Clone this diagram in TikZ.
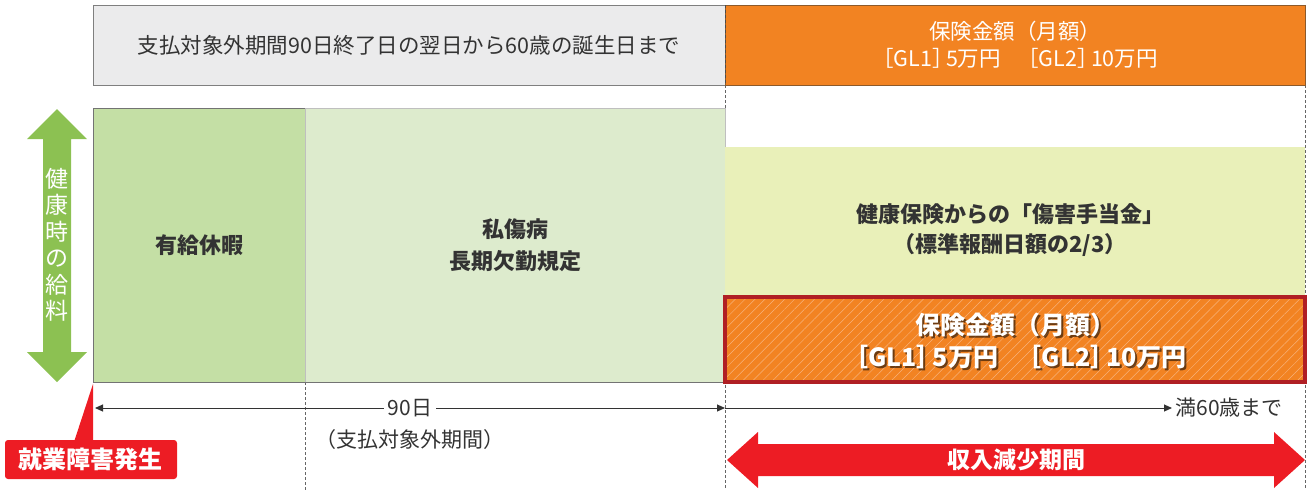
\documentclass[tikz,border=0pt]{standalone}
\usepackage{fontspec}
\setmainfont{Noto Sans CJK JP}
\usetikzlibrary{patterns.meta,arrows.meta}
\definecolor{grayfill}{HTML}{EBEBEC}
\definecolor{grayedge}{HTML}{7F7F7F}
\definecolor{orng}{HTML}{F28322}
\definecolor{orngedge}{HTML}{8C5A2B}
\definecolor{hatch}{HTML}{F7B27A}
\definecolor{dgreen}{HTML}{C4DFA5}
\definecolor{lgreen}{HTML}{DDEBCD}
\definecolor{ygreen}{HTML}{E9F0B9}
\definecolor{redc}{HTML}{ED1C24}
\definecolor{dred}{HTML}{B01F24}
\definecolor{garrow}{HTML}{8CC152}
\definecolor{txt}{HTML}{333333}
\newcommand\fsz[2]{\fontsize{#1}{#2}\selectfont}
\newcommand\glamt{［GL1］\kern-0.35em 5万円　\kern-0.25em［GL2］\kern-0.35em 10万円}
\begin{document}
\begin{tikzpicture}[x=1pt,y=-1pt,
  box/.style={anchor=north west, inner sep=0pt, outer sep=0pt, align=center},
  dline/.style={draw=black!60, line width=0.8pt, dash pattern=on 3pt off 2pt},
  conn/.style={draw=txt, line width=1pt},
  tipa/.tip={Triangle[length=8pt,width=7pt]},
  lbl/.style={text=txt, align=center, inner sep=0pt}]
\useasboundingbox (0,0) rectangle (1307,490);

% dashed guide lines (behind)
\draw[dline] (305,382) -- (305,490);
\draw[dline] (725,85) -- (725,490);
\draw[dline] (1305,85) -- (1305,490);

% top bar
\node[box, fill=grayfill, draw=grayedge, line width=0.8pt, minimum width=632pt, minimum height=80pt,
  text=txt, font=\fsz{21.5}{26}] (g0) at (93,5) {支払対象外期間90日終了日の翌日から60歳の誕生日まで};
\node[box, fill=orng, draw=orngedge, line width=0.8pt, minimum width=580pt, minimum height=80pt,
  text=white, font=\fsz{21.5}{27}] (o0) at (725,5) {保険金額（月額）\\\glamt};
\draw[dline, draw=black!70] (g0.north east) -- (g0.south east);

% main boxes
\node[box, fill=dgreen, draw=black!55, line width=0.8pt, minimum width=212pt, minimum height=274pt,
  text=txt, font=\bfseries\fsz{22}{32}] (pay) at (93,108) {有給休暇};
\node[box, fill=lgreen, draw=black!25, line width=0.5pt, minimum width=420pt, minimum height=274pt,
  text=txt, font=\bfseries\fsz{22}{32}] (sick) at (305,108) {私傷病\\長期欠勤規定};
\draw[draw=black!55, line width=0.8pt] (pay.south west) -- (sick.south east);
\node[box, fill=ygreen, minimum width=580pt, minimum height=150pt] (hi) at (725,147) {};
\node[lbl, font=\bfseries\fsz{22}{30}] (hit) at (1010,230) {健康保険からの「傷害手当金」\\（標準報酬日額の2/3）};
\node[box, preaction={fill=orng}, pattern={Lines[angle=45,distance=7pt,line width=0.5pt]}, pattern color=hatch,
  draw=dred, line width=4pt, minimum width=580pt, minimum height=85pt] (ins) at (725,297) {};
\node[lbl, text=black, opacity=0.55, font=\bfseries\fsz{25}{32}] (inssh) at (1017,343) {保険金額（月額）\\\glamt};
\node[lbl, text=white, font=\bfseries\fsz{25}{32}] (inst) at (1015,341) {保険金額（月額）\\\glamt};

% green double arrow
\fill[garrow] (57,109) -- (87,139) -- (71,139) -- (71,352) -- (87,352) -- (57,382)
  -- (27,352) -- (43,352) -- (43,139) -- (27,139) -- cycle;
\node[lbl, text=white, font=\fsz{23}{26.5}] (sal) at (57,245) {健\\康\\時\\の\\給\\料};

% timeline arrows
\coordinate (a0) at (95,408);
\coordinate (a1) at (725,408);
\coordinate (a2) at (1172,408);
\draw[conn, tipa-tipa] (a0) -- node[fill=white, text=txt, font=\fsz{21}{24}, inner sep=4pt] (d90) {90日} (a1);
\node[lbl, font=\fsz{21}{24}] (sub) at (410,440) {（支払対象外期間）};
\draw[conn, -tipa] (a1) -- (a2) node[right, text=txt, font=\fsz{21}{24}, inner sep=3pt] (m60) {満60歳まで};

% red double arrow
\fill[redc] (727,460) -- (758,432) -- (758,444) -- (1274,444) -- (1274,432) -- (1305,460)
  -- (1274,488) -- (1274,476) -- (758,476) -- (758,488) -- cycle;
\node[lbl, text=white, font=\bfseries\fsz{23}{26}] (dec) at (1016,460) {収入減少期間};

% callout
\fill[redc] (74,442) -- (93,384) -- (93,442) -- cycle;
\node[box, fill=redc, rounded corners=3pt, minimum width=172pt, minimum height=39pt,
  text=white, font=\bfseries\fsz{24}{28}] (occ) at (5,440) {就業障害発生};
\end{tikzpicture}
\end{document}
